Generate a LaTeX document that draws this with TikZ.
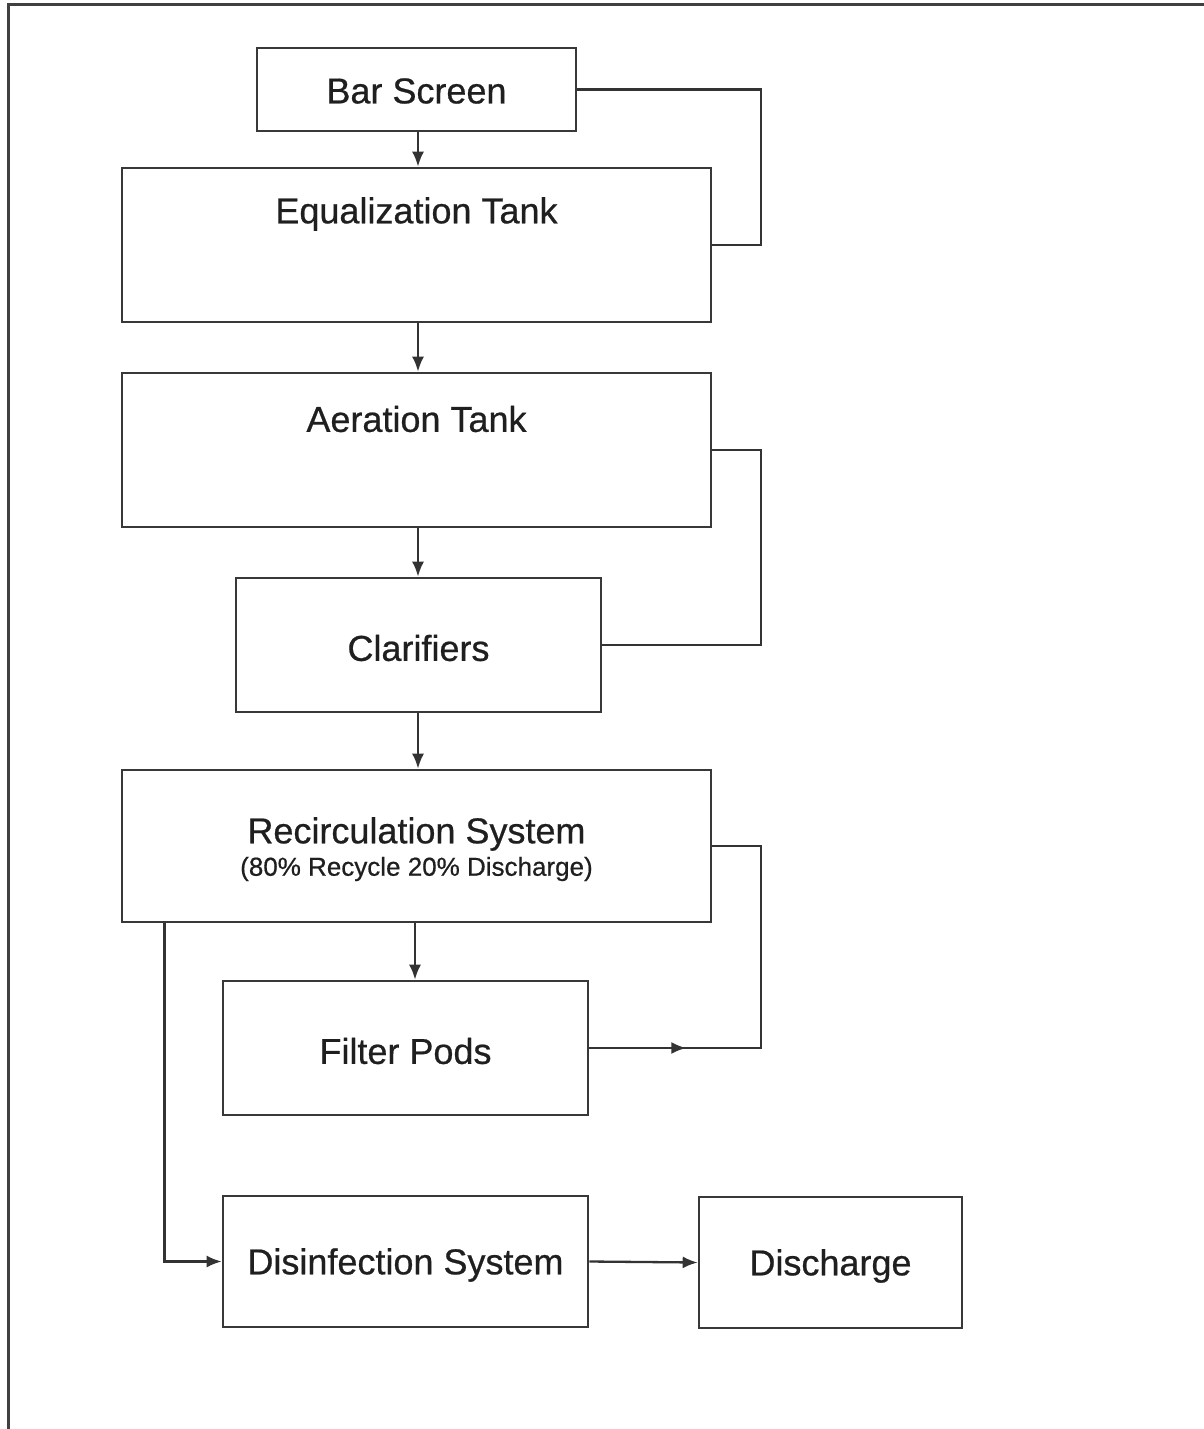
\documentclass[tikz,border=0pt]{standalone}
\usepackage{fontspec}
\setmainfont{Liberation Sans}
\newfontfamily\diagfont{Liberation Sans}[FakeBold=0.6]
\usetikzlibrary{arrows.meta}
\begin{document}
\begin{tikzpicture}[x=1pt,y=-1pt,
  box/.style={draw=black!78, line width=2.6pt, rectangle, inner sep=0pt},
  txt/.style={inner sep=0pt, text=black!88, font=\diagfont\fontsize{36}{40}\selectfont},
  small/.style={inner sep=0pt, text=black!88, font=\diagfont\fontsize{26}{30}\selectfont},
  conn/.style={draw=black!80, line width=2.3pt},
  arr/.style={conn, -{Latex[length=15pt,width=12pt]}}]
\useasboundingbox (0,0) rectangle (1204,1429);
\fill[white] (0,0) rectangle (1204,1429);
\draw[line width=3pt, black!75] (8,1429) -- (8,5) -- (1204,5);

\node[box, minimum width=319, minimum height=83] (bar) at (416.5,89.5) {};
\node[txt] (bart) at (416.5,91) {Bar Screen};
\node[box, minimum width=589, minimum height=154] (eq) at (416.5,245) {};
\node[txt] (eqt) at (416.5,214) {Equalization Tank};
\node[box, minimum width=589, minimum height=154] (aer) at (416.5,450) {};
\node[txt] (aert) at (416.5,419) {Aeration Tank};
\node[box, minimum width=365, minimum height=134] (clar) at (418.5,645) {};
\node[txt] (clart) at (418.5,648) {Clarifiers};
\node[box, minimum width=589, minimum height=152] (rec) at (416.5,846) {};
\node[txt] (rect) at (416.5,834) {Recirculation System};
\node[small] (recs) at (416.5,869) {(80\% Recycle 20\% Discharge)};
\node[box, minimum width=365, minimum height=134] (filt) at (405.5,1048) {};
\node[txt] (filtt) at (405.5,1051) {Filter Pods};
\node[box, minimum width=365, minimum height=131] (dis) at (405.5,1261.5) {};
\node[txt] (dist) at (405.5,1265) {Disinfection System};
\node[box, minimum width=263, minimum height=131] (disc) at (830.5,1262.5) {};
\node[txt] (disct) at (830.5,1266) {Discharge};

% main flow
\draw[arr] ([xshift=1.5pt]bar.south) -- ([xshift=1.5pt]bar.south |- eq.north);
\draw[arr] ([xshift=1.5pt]eq.south) -- ([xshift=1.5pt]eq.south |- aer.north);
\draw[arr] ([xshift=1.5pt]aer.south) -- ([xshift=1.5pt]aer.south |- clar.north);
\draw[arr] ([xshift=1.5pt]aer.south |- clar.south) -- ([xshift=1.5pt]aer.south |- rec.north);
\draw[arr] ([xshift=9.5pt]filt.north |- rec.south) -- ([xshift=9.5pt]filt.north);
\draw[arr] ([xshift=-252pt]rec.south) |- (dis.west);
\draw[arr] (dis.east) -- (disc.west);

% return loops
\draw[conn] (bar.east) -- ++(184,0) |- (eq.east);
\draw[conn] (aer.east) -- ++(49,0) |- (clar.east);
\draw[conn] (filt.east) -- ++(172,0) |- (rec.east);
\draw[arr] (filt.east) -- ++(97,0);
\end{tikzpicture}
\end{document}
